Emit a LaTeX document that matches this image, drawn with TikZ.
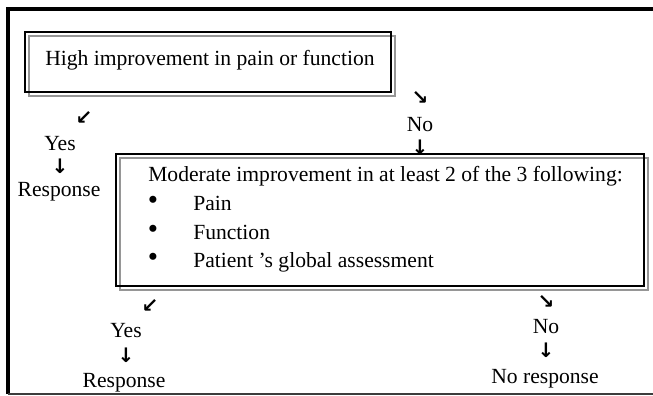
\documentclass[tikz,border=0pt]{standalone}
\usepackage{fontspec}
\setmainfont{Liberation Serif}
\newfontfamily\arrowfont{DejaVu Sans}
\usepackage{tikz}

\begin{document}
\begin{tikzpicture}[x=0.75pt,y=0.75pt,yscale=-1,xscale=1,
  txt/.style={inner sep=0pt,font=\fontsize{16.2}{19}\selectfont},
  dot/.style={inner sep=0pt,font=\fontsize{22}{19}\selectfont},
  arr/.style={inner sep=0pt,font=\arrowfont\bfseries\fontsize{15}{17}\selectfont},
  blackbox/.style={draw=black,line width=1.5pt},
  graybox/.style={draw={rgb, 255:red, 150; green, 150; blue, 150},line width=1.5pt}]
\useasboundingbox (0,0) rectangle (653,396);

%Outer frame
\draw [line width=3pt] (653,9) -- (8,9) -- (8,394) ;
\draw [line width=1.2pt,color={rgb, 255:red, 60; green, 60; blue, 60}] (8,394) -- (653,394) ;

%Shape: Rectangle
\draw [graybox] (29,36) rectangle (395,96) ;
\draw [blackbox] (25,32) rectangle (391,92) ;
%Shape: Rectangle
\draw [graybox] (120,158) rectangle (648,290) ;
\draw [blackbox] (116,154) rectangle (644,286) ;

% Text Node
\node [txt,anchor=base west] (high) at (45,65) {High improvement in pain or function};
% Text Node
\node [txt,anchor=base west] (moderate) at (148,181) {Moderate improvement in at least 2 of the 3 following:};
% Text Node
\node [dot] (b1) at (153,203) {\textbullet};
\node [txt,anchor=base west] (pain) at (193,210) {Pain};
% Text Node
\node [dot] (b2) at (153,232) {\textbullet};
\node [txt,anchor=base west] (function) at (193,239) {Function};
% Text Node
\node [dot] (b3) at (153,260) {\textbullet};
\node [txt,anchor=base west] (global) at (193,267) {Patient 's global assessment};

% Text Node
\node [arr] (a1) at (84,118) {↙};
\node [txt,anchor=base] (yes1) at (60,150) {Yes};
\node [arr] (a2) at (60,166) {↓};
\node [txt,anchor=base] (resp1) at (59,196) {Response};
% Text Node
\node [arr] (a3) at (420,98) {↘};
\node [txt,anchor=base] (no1) at (420,131) {No};
\node [arr] (a4) at (420,147) {↓};
% Text Node
\node [arr] (a5) at (150,306) {↙};
\node [txt,anchor=base] (yes2) at (126,337) {Yes};
\node [arr] (a6) at (126,355) {↓};
\node [txt,anchor=base] (resp2) at (124,387) {Response};
% Text Node
\node [arr] (a7) at (546,302) {↘};
\node [txt,anchor=base] (no2) at (546,333) {No};
\node [arr] (a8) at (546,350) {↓};
\node [txt,anchor=base] (noresp) at (545,383) {No response};

\end{tikzpicture}
\end{document}
